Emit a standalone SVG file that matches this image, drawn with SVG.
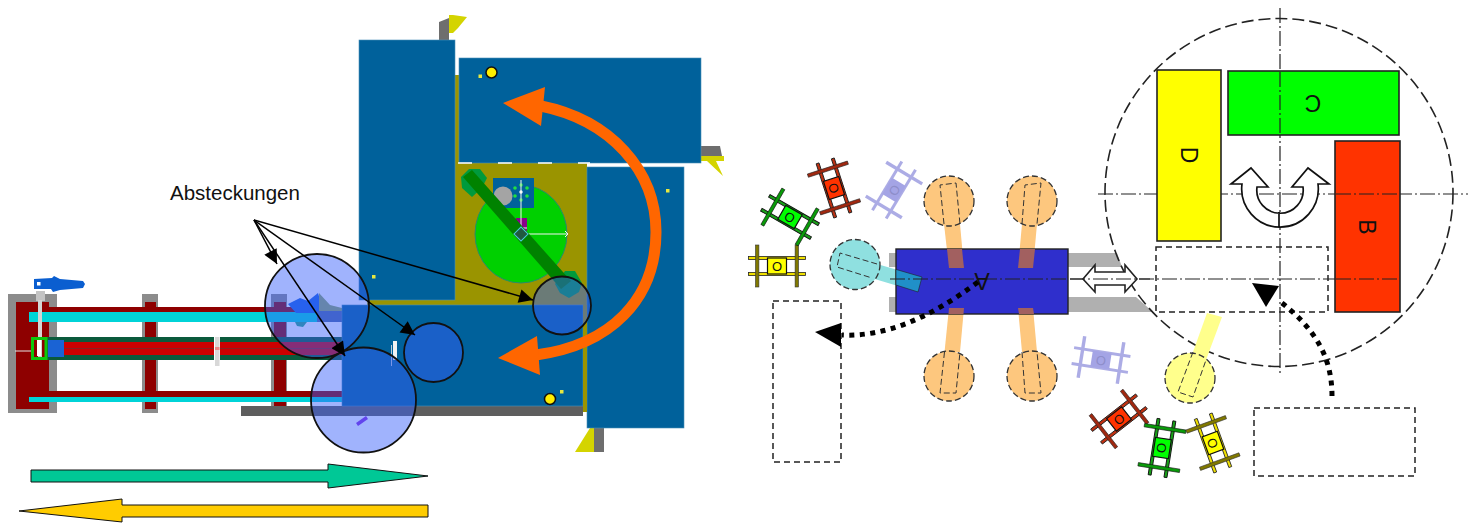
<svg xmlns="http://www.w3.org/2000/svg" width="1470" height="528" viewBox="0 0 1470 528">
<style>
text{font-family:"Liberation Sans",Arial,sans-serif;fill:#111}
.plate{fill:#00619b;stroke:#4a8fb8;stroke-width:.6}
.gr{fill:#8c8c8c}.dr{fill:#8e0000}.cy{fill:#00d4d8}
.lens{fill:rgb(55,95,250);fill-opacity:.475;stroke:#111;stroke-width:1.8}
.dash{fill:none;stroke:#222;stroke-width:1.5;stroke-dasharray:6 4}
.ring{fill:none;stroke:#222;stroke-width:1.6;stroke-dasharray:12 5}
.axis{fill:none;stroke:#222;stroke-width:1.2;stroke-dasharray:15 3 2 3}
.ln{stroke:#000;stroke-width:1.5;fill:none}
.pad{stroke:#333;stroke-width:1.3;stroke-dasharray:6 3}
.dot{fill:none;stroke:#000;stroke-width:5;stroke-dasharray:5 5.5}
.st{stroke:#222;stroke-width:1.6}
.ltr{font-size:23px}
.o{font-size:13px;text-anchor:middle}
.bar{stroke:#111;stroke-width:1}
.hex{fill:#009a3c}
</style>
<defs>
<marker id="ah" viewBox="0 0 10 10" refX="10" refY="5" markerWidth="17" markerHeight="14" markerUnits="userSpaceOnUse" orient="auto"><path d="M0,0L10,5L0,10Z" fill="#000"/></marker>
<g id="cart-frame">
<rect x="-28.5" y="-9.5" width="57" height="3"/><rect x="-28.5" y="6.5" width="57" height="3"/>
</g>
<g id="cart-cross">
<rect x="-21.5" y="-21" width="3.4" height="42"/><rect x="18.1" y="-21" width="3.4" height="42"/>
</g>
</defs>

<g id="plant">
<rect x="241" y="406" width="342" height="10" fill="#5e5e5e"/>
<rect class="gr" x="8" y="294" width="49" height="119"/><rect class="dr" x="16" y="302" width="33" height="107"/>
<rect class="gr" x="142" y="294" width="16" height="119"/><rect class="dr" x="145" y="302" width="11" height="107"/>
<rect class="gr" x="271" y="294" width="16" height="112"/><rect class="dr" x="274" y="302" width="12" height="104"/>
<rect class="dr" x="28" y="307" width="269" height="5"/>
<rect class="cy" x="29" y="312" width="313" height="10"/>
<rect x="47" y="337" width="295" height="23" fill="#0a5a3c"/>
<rect x="60" y="342" width="282" height="13" fill="#cc0000"/>
<rect x="60" y="348" width="282" height="1" fill="#8a2020"/>
<rect x="214" y="337" width="6" height="23" fill="#fff"/>
<rect x="215" y="337" width="4.500" height="29" fill="#d8d8d8"/>
<rect x="215" y="347" width="4.500" height="3" fill="#e88"/>
<rect x="27" y="391" width="315" height="6" class="dr"/>
<rect class="cy" x="29" y="397" width="313" height="5"/>
<rect x="36" y="291" width="9" height="10" fill="#c4c4c4"/>
<rect x="38" y="300" width="4" height="60" fill="#d4d4d4"/>
<rect x="15" y="350.500" width="17" height="1" fill="#e4e4e4"/>
<rect x="32.500" y="338.500" width="13.500" height="20" fill="none" stroke="#0cc80c" stroke-width="3"/>
<rect x="37" y="340" width="4" height="16" fill="#fff"/>
<rect x="48" y="340" width="16" height="17" fill="#1a63d4"/>
<path d="M34,279L52,278L54,276L60,279L83,281L85,284L83,288L60,290L53,292L51,289L34,289Z" fill="#0a5ed0"/><rect x="37" y="282" width="3.500" height="3.500" fill="#fff"/>
<path d="M288,304L300,298L308,301L318,293L322,306L320,313H296Z" fill="#1a63e0"/>
<path d="M319,293L330,305L342,308V311H319Z" fill="#8fa86a"/>
<path d="M295,322H307L303,327L297,326Z" fill="#2ba88a"/>
<path d="M356,423L366,416L368,419L358,426Z" fill="#8a2ce0"/>
<rect x="317" y="311" width="25" height="11" fill="#4a6aa8"/>
<rect x="455" y="163" width="132" height="143" fill="#9a9400"/>
<rect x="455" y="75" width="4" height="90" fill="#9a9400"/>
<rect x="367" y="300" width="90" height="5" fill="#9a9400"/>
<path d="M439,22L449,18V40H439Z" fill="#6e6e6e"/><path d="M449,15H453L467,17L458,28L453,33H449Z" fill="#d4d400"/>
<path d="M701,146H720L722,156H701Z" fill="#6e6e6e"/><path d="M701,156H724V161H716L723,176L707,161H701Z" fill="#d4d400"/>
<path d="M594,428H604V452H594Z" fill="#6e6e6e"/><path d="M590,428H594V452H575Z" fill="#d4d400"/>
<rect class="plate" x="359" y="40" width="96" height="260"/>
<rect class="plate" x="459" y="58" width="242" height="105"/>
<rect class="plate" x="587" y="167" width="97" height="261"/>
<rect class="plate" x="342" y="305" width="241" height="101"/>
<ellipse cx="521" cy="234" rx="46" ry="49" fill="#00d000" stroke="#2a8a6a"/>
<rect x="493" y="178" width="41" height="30" fill="#00619b"/>
<circle cx="503" cy="196" r="9.500" fill="#a4a4a4"/>
<g fill="#22e040"><circle cx="521" cy="185" r="1.800"/><circle cx="515" cy="188" r="1.800"/><circle cx="527" cy="188" r="1.800"/><circle cx="515" cy="196" r="1.800"/><circle cx="527" cy="196" r="1.800"/><circle cx="521" cy="200" r="1.800"/></g>
<circle cx="521" cy="192" r="1.700" fill="#fff"/>
<rect x="516" y="218" width="11" height="13" fill="#8a008a"/>
<path d="M521,180V234H568M565,231L568,234L565,237M516,228H527" stroke="#f2f2f2" stroke-width="1" fill="none"/>
<path class="hex" d="M461,177L469,169H480L487,178L482,188L472,197L462,188Z"/>
<path class="hex" d="M555,284L565,271H575L582,283L579,292L569,298L560,293Z"/>
<path d="M463,177L472,170L571,281L561,289Z" fill="#008200"/>
<rect x="516" y="229" width="10" height="10" transform="rotate(45 521 234)" fill="#205a40" stroke="#4cc8e0"/>
<rect x="391" y="345" width="1" height="21" fill="#b8c8d8"/><rect x="393" y="341" width="4" height="19" fill="#f2f2f2"/>
<path d="M585,305V412" stroke="#9a9400" stroke-width="4" fill="none"/>
<path d="M458,163H590" stroke="#fff" stroke-width="1.500" stroke-dasharray="14 26" fill="none"/>
<g fill="#e8e840"><rect x="478.500" y="74.500" width="3.500" height="3.500"/><rect x="372" y="275" width="3.500" height="3.500"/><rect x="560" y="390" width="3.500" height="3.500"/><rect x="666" y="189" width="3.500" height="3.500"/></g>
<circle cx="491.500" cy="72.500" r="5.500" fill="#ffee00" stroke="#111" stroke-width="1.500"/>
<circle cx="550" cy="399" r="5.500" fill="#ffee00" stroke="#111" stroke-width="1.500"/>
</g>

<g id="n-lens1"><circle class="lens" cx="317" cy="306" r="52"/></g>
<g id="n-lens2"><circle class="lens" cx="363.500" cy="400" r="52.500"/></g>
<g id="n-lens3"><circle class="lens" cx="433.500" cy="352.500" r="29.500"/></g>
<g id="n-lens4"><circle class="lens" cx="562" cy="305.500" r="29"/></g>
<g id="n-label"><text x="170" y="200" font-size="20.500">Absteckungen</text></g>

<g id="n-turn-arrow">
<path d="M541,106C610,120 656,170 656,232C656,300 610,345 536,355" fill="none" stroke="#ff6600" stroke-width="11"/>
<path d="M503,103L545,87L541,126Z" fill="#ff6600"/>
<path d="M498,358L537,336L540,375Z" fill="#ff6600"/>
</g>
<g id="n-forward"><path class="bar" d="M31,470H328V464L428,476L328,488V482H31Z" fill="#00c896"/></g>
<g id="n-back"><path class="bar" d="M19,511L122,499V505H428V517H122V522Z" fill="#ffcc00"/></g>

<g id="n-zone">
<path d="M889,253H1117L1122,267H889Z" fill="#b0b0b0"/>
<path d="M889,297H1136L1153,312H889Z" fill="#b0b0b0"/>
<circle class="ring" cx="1279" cy="192.500" r="174"/>
<path class="axis" d="M1280,8V376"/>
<path class="axis" d="M1098,194H1468"/>
<path class="axis" d="M1070,279H1400"/>
</g>
<g id="n-D"><rect x="1157" y="70" width="64" height="171" fill="#ffff00" class="st"/><text class="ltr" transform="translate(1181,155) rotate(90)" text-anchor="middle">D</text></g>
<g id="n-C"><rect x="1228" y="71" width="171" height="64" fill="#00ff00" class="st"/><path class="axis" d="M1280,72V135"/><text class="ltr" transform="translate(1313,95) rotate(180)" text-anchor="middle">C</text></g>
<g id="n-B"><rect x="1335" y="141" width="65" height="171" fill="#ff3300" class="st"/><path class="axis" d="M1336,194H1399M1336,279H1399"/><text class="ltr" transform="translate(1359,227) rotate(90)" text-anchor="middle">B</text></g>
<g id="n-slot"><rect class="dash" x="1156" y="247" width="172" height="65"/></g>
<g id="n-turn"><path d="M1251,168L1231,184H1242A38.300,38.300 0 1 0 1318,184H1329L1308,168L1292,187H1303A23.200,23.200 0 1 1 1257,187H1268ZM1279,212V227" fill="#fff" stroke="#111" stroke-width="1.700"/></g>

<g id="n-shift"><path d="M1083,279L1095,265V272H1125V265L1137,279L1125,292V285H1095V292Z" fill="#fff" stroke="#222" stroke-width="1.600"/><path class="axis" d="M1070,279H1150"/></g>
<g id="n-pad-tl"><path d="M944,224H960L964,268H949Z" fill="#fdc77e"/><circle class="pad" cx="949" cy="201" r="25" fill="#fdc77e"/></g>
<g id="n-pad-tr"><path d="M1022,224H1037L1033,268H1018Z" fill="#fdc77e"/><circle class="pad" cx="1032" cy="201" r="25" fill="#fdc77e"/></g>
<g id="n-pad-bl"><path d="M949,308H964L960,352H944.500Z" fill="#fdc77e"/><circle class="pad" cx="949" cy="376" r="25" fill="#fdc77e"/></g>
<g id="n-pad-br"><path d="M1018,308H1033L1037,352H1022Z" fill="#fdc77e"/><circle class="pad" cx="1032" cy="376" r="25" fill="#fdc77e"/></g>
<g id="n-pad-c"><path d="M870,262L922,277L918,292L868,277Z" fill="#8fe0e0"/><circle class="pad" cx="855" cy="264.500" r="25" fill="#8fe0e0"/></g>
<g id="n-pad-y"><path d="M1207,313L1222,317L1206,360L1193,352Z" fill="#ffff8c"/><circle class="pad" cx="1190" cy="378" r="25" fill="#ffff8c"/></g>
<g id="n-A">
<rect x="896" y="249" width="172" height="65" fill="#2f2fcc" stroke="#222" stroke-width="1.400"/>
<g fill="#a26060"><path d="M947,249H962L964,268H949Z"/><path d="M1020,249H1035L1033,268H1018Z"/><path d="M949,308H964L963.500,314H948.500Z"/><path d="M1018,308H1033L1034,314H1019Z"/></g>
<path d="M896,269.400L922,277L918,292L896,285Z" fill="#2090c8" stroke="#222" stroke-width=".6"/>
<path class="axis" d="M890,279H1066"/>
<text class="ltr" transform="translate(982,273) rotate(180)" text-anchor="middle">A</text>
</g>
<path d="M944,224L940,185L956,183L960,224M1022,224L1025,185L1041,183L1037,224M944.500,352L940,393H956L960,352M1022,352L1025,393H1041L1037,352M877,264L840,253L837,267L872,278M1193,352L1178,392L1193,397L1206,360" fill="none" stroke="#333" stroke-width="1" stroke-dasharray="6 3"/>

<g id="n-drop1"><rect class="dash" x="773" y="301" width="68" height="161"/></g>
<g id="n-drop2"><rect class="dash" x="1254" y="408" width="161" height="68"/></g>

<g id="n-cart-y1" transform="translate(777,266)"><use href="#cart-frame" fill="#f0e000" stroke="#222" stroke-width=".8"/><use href="#cart-cross" fill="#807800" stroke="#333" stroke-width=".6"/><rect x="-9.500" y="-8" width="19" height="16" fill="#ffff00" stroke="#111" stroke-width="1.200"/><text class="o" y="5">O</text></g>
<g id="n-cart-g1" transform="translate(790,217) rotate(30)"><use href="#cart-frame" fill="#18a018" stroke="#111" stroke-width=".9"/><use href="#cart-cross" fill="#0a9a0a" stroke="#111" stroke-width=".6"/><rect x="-9.500" y="-8" width="19" height="16" fill="#00ff00" stroke="#111" stroke-width="1.200"/><text class="o" y="5">O</text></g>
<g id="n-cart-r1" transform="translate(834,188) rotate(72)"><use href="#cart-frame" fill="#c03010" stroke="#222" stroke-width=".9"/><use href="#cart-cross" fill="#a02810" stroke="#222" stroke-width=".6"/><rect x="-9.500" y="-8" width="19" height="16" fill="#ff3300" stroke="#111" stroke-width="1.200"/><text class="o" y="5">O</text></g>
<g id="n-cart-b1" transform="translate(894,190) rotate(-59)" opacity=".95"><use href="#cart-frame" fill="#a8a8e4"/><use href="#cart-cross" fill="#a8a8e4"/><rect x="-9.500" y="-8" width="19" height="16" fill="#a0a0e4"/><text class="o" y="5" style="fill:#8888c8">O</text></g>
<g id="n-cart-b2" transform="translate(1101,360) rotate(9)" opacity=".95"><use href="#cart-frame" fill="#a8a8e4"/><use href="#cart-cross" fill="#a8a8e4"/><rect x="-9.500" y="-8" width="19" height="16" fill="#a0a0e4"/><text class="o" y="5" style="fill:#8888c8">O</text></g>
<g id="n-cart-r2" transform="translate(1119,419) rotate(-38)"><use href="#cart-frame" fill="#c03010" stroke="#222" stroke-width=".9"/><use href="#cart-cross" fill="#a02810" stroke="#222" stroke-width=".6"/><rect x="-9.500" y="-8" width="19" height="16" fill="#ff3300" stroke="#111" stroke-width="1.200"/><text class="o" y="5">O</text></g>
<g id="n-cart-g2" transform="translate(1162,448) rotate(99)"><use href="#cart-frame" fill="#18a018" stroke="#111" stroke-width=".9"/><use href="#cart-cross" fill="#0a9a0a" stroke="#111" stroke-width=".6"/><rect x="-9.500" y="-8" width="19" height="16" fill="#00ff00" stroke="#111" stroke-width="1.200"/><text class="o" y="5">O</text></g>
<g id="n-cart-y2" transform="translate(1213,443) rotate(70)"><use href="#cart-frame" fill="#f0e000" stroke="#222" stroke-width=".8"/><use href="#cart-cross" fill="#807800" stroke="#333" stroke-width=".6"/><rect x="-9.500" y="-8" width="19" height="16" fill="#ffff00" stroke="#111" stroke-width="1.200"/><text class="o" y="5">O</text></g>

<g id="connectors">
<path class="ln" d="M254,220L277,264" marker-end="url(#ah)"/>
<path class="ln" d="M254,220L345,356" marker-end="url(#ah)"/>
<path class="ln" d="M254,220L415,335" marker-end="url(#ah)"/>
<path class="ln" d="M254,220L533,300" marker-end="url(#ah)"/>
<path class="dot" d="M978,282C930,318 885,337 842,335"/>
<path d="M815,332L841,323V347Z" fill="#000"/>
<path class="dot" d="M1332,396C1332,360 1318,330 1278,300"/>
<path d="M1252,283L1279,286L1266,307Z" fill="#000"/>
</g>
</svg>
